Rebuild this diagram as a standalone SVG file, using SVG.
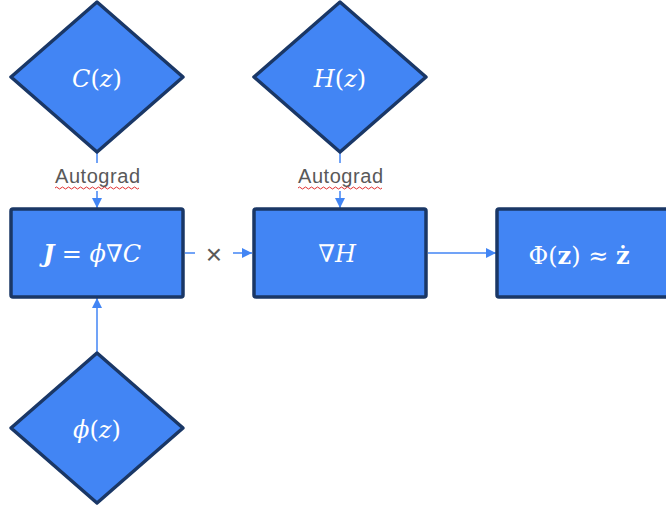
<svg xmlns="http://www.w3.org/2000/svg" width="666" height="508" viewBox="0 0 666 508">
<defs>
<style>
.node{fill:#4285F4;stroke:#1A3766;stroke-width:3.5;stroke-linejoin:round}
.math{fill:#ffffff;font-family:"DejaVu Serif","Liberation Serif",serif;font-size:24px;text-anchor:middle}
.i{font-style:italic}
.b{font-weight:bold}
.conn{stroke:#4285F4;stroke-width:1.5;fill:none}
.lbl{fill:#595959;font-family:"Liberation Sans",Arial,sans-serif;font-size:20px;text-anchor:middle}
.wavy{stroke:#E03030;stroke-width:1;fill:none}
</style>
<marker id="arr" viewBox="0 0 10 10" refX="10" refY="5" markerWidth="10" markerHeight="10" markerUnits="userSpaceOnUse" orient="auto">
<path d="M0,0 L10,5 L0,10 z" fill="#4285F4"/>
</marker>
</defs>
<rect width="666" height="508" fill="#ffffff"/>
<g id="connectors">
<line class="conn" x1="97" y1="153" x2="97" y2="208" marker-end="url(#arr)"/>
<line class="conn" x1="340" y1="153" x2="340" y2="208" marker-end="url(#arr)"/>
<line class="conn" x1="97" y1="352" x2="97" y2="298" marker-end="url(#arr)"/>
<line class="conn" x1="185" y1="253" x2="252" y2="253" marker-end="url(#arr)"/>
<line class="conn" x1="428" y1="253" x2="496" y2="253" marker-end="url(#arr)"/>
<rect x="50" y="163" width="95" height="28" fill="#ffffff"/>
<text class="lbl" x="97.5" y="183" textLength="85">Autograd</text>
<path class="wavy" d="M55,188 q1.5,-2 3,0 t3,0 t3,0 t3,0 t3,0 t3,0 t3,0 t3,0 t3,0 t3,0 t3,0 t3,0 t3,0 t3,0 t3,0 t3,0 t3,0 t3,0 t3,0 t3,0 t3,0 t3,0 t3,0 t3,0 t3,0 t3,0 t3,0 t3,0"/>
<rect x="293" y="163" width="95" height="28" fill="#ffffff"/>
<text class="lbl" x="340.5" y="183" textLength="85">Autograd</text>
<path class="wavy" d="M298,188 q1.5,-2 3,0 t3,0 t3,0 t3,0 t3,0 t3,0 t3,0 t3,0 t3,0 t3,0 t3,0 t3,0 t3,0 t3,0 t3,0 t3,0 t3,0 t3,0 t3,0 t3,0 t3,0 t3,0 t3,0 t3,0 t3,0 t3,0 t3,0 t3,0"/>
<rect x="195" y="240" width="38" height="28" fill="#ffffff"/>
<text x="214" y="264" fill="#595959" font-family="Liberation Sans,Arial,sans-serif" font-size="28" text-anchor="middle">×</text>
</g>
<g id="C">
<polygon class="node" points="97,2 183,77 97,152 11,77"/>
<text class="math" x="97" y="87"><tspan class="i">C</tspan>(<tspan class="i">z</tspan>)</text>
</g>
<g id="H">
<polygon class="node" points="340,2 426,77 340,152 254,77"/>
<text class="math" x="340" y="87"><tspan class="i">H</tspan>(<tspan class="i">z</tspan>)</text>
</g>
<g id="phi">
<polygon class="node" points="97,353 183,428 97,503 11,428"/>
<text class="math" x="97" y="438"><tspan class="i">ϕ</tspan>(<tspan class="i">z</tspan>)</text>
</g>
<g id="J">
<rect class="node" x="11" y="209" width="172" height="88" rx="2"/>
<text class="math" x="92" y="262"><tspan class="i b">J</tspan> = <tspan class="i">ϕ</tspan>∇<tspan class="i">C</tspan></text>
</g>
<g id="gradH">
<rect class="node" x="254" y="209" width="172" height="88" rx="2"/>
<text class="math" x="337" y="262">∇<tspan class="i">H</tspan></text>
</g>
<g id="Phi">
<rect class="node" x="497" y="209" width="172" height="88" rx="2"/>
<text class="math" x="579" y="264">Φ(<tspan class="b">z</tspan>) ≈ <tspan class="b">ż</tspan></text>
</g>
</svg>
